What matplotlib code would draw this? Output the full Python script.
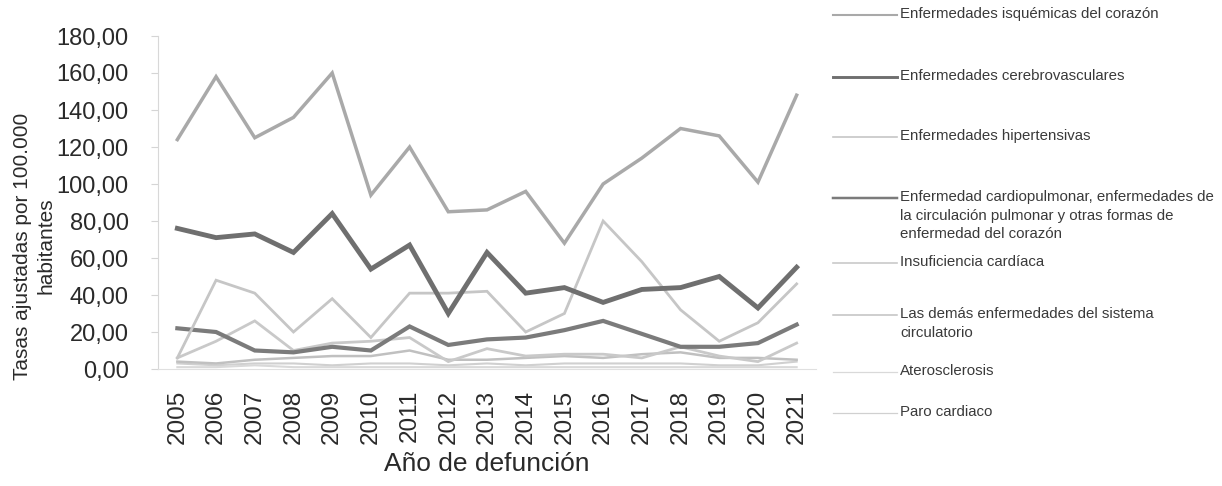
import matplotlib.pyplot as plt
from matplotlib.lines import Line2D

plt.rcParams['font.family'] = ['Liberation Sans', 'DejaVu Sans']

# datos (tasas ajustadas por 100.000 habitantes)
anios = ['2005', '2006', '2007', '2008', '2009', '2010', '2011', '2012', '2013',
         '2014', '2015', '2016', '2017', '2018', '2019', '2020', '2021']

isquemicas = [124, 158, 125, 136, 160, 94, 120, 85, 86, 96, 68, 100, 114, 130, 126, 101, 148]
cerebrovasculares = [76, 71, 73, 63, 84, 54, 67, 30, 63, 41, 44, 36, 43, 44, 50, 33, 55]
hipertensivas = [6, 48, 41, 20, 38, 17, 41, 41, 42, 20, 30, 80, 58, 32, 15, 25, 46]
cardiopulmonar = [22, 20, 10, 9, 12, 10, 23, 13, 16, 17, 21, 26, 19, 12, 12, 14, 24]
insuficiencia = [6, 15, 26, 10, 14, 15, 17, 4, 11, 7, 8, 8, 6, 12, 7, 4, 14]
demas = [4, 3, 5, 6, 7, 7, 10, 5, 5, 6, 7, 6, 8, 9, 6, 6, 5]
aterosclerosis = [1, 1, 2, 1, 1, 1, 1, 1, 1, 1, 1, 1, 1, 1, 1, 1, 1]
paro = [3, 2, 3, 3, 2, 3, 3, 2, 3, 2, 3, 3, 3, 3, 2, 2, 4]

series = [
    ("Enfermedades isquémicas del corazón", isquemicas, '#a9a9a9', 2.5),
    ("Enfermedades cerebrovasculares", cerebrovasculares, '#6f6f6f', 3.5),
    ("Enfermedades hipertensivas", hipertensivas, '#c6c6c6', 2.0),
    ("Enfermedad cardiopulmonar, enfermedades de\nla circulación pulmonar y otras formas de\nenfermedad del corazón",
     cardiopulmonar, '#7b7b7b', 3.0),
    ("Insuficiencia cardíaca", insuficiencia, '#c9c9c9', 2.0),
    ("Las demás enfermedades del sistema\ncirculatorio", demas, '#c0c0c0', 1.8),
    ("Aterosclerosis", aterosclerosis, '#d9d9d9', 1.5),
    ("Paro cardiaco", paro, '#d0d0d0', 1.5),
]
# posición vertical (px desde arriba) de cada entrada de la leyenda
leyenda_y = [15, 77, 137, 198, 263, 315, 372, 413]

fig = plt.figure(figsize=(12.22, 4.86), dpi=100)
ax = fig.add_axes([158 / 1222, 1 - 369 / 486, (816 - 158) / 1222, (369 - 36) / 486])

x = range(len(anios))
for nombre, valores, color, lw in series[::-1]:
    ax.plot(x, valores, color=color, linewidth=lw, solid_joinstyle='miter')

ax.set_xlim(-0.5, len(anios) - 0.5)
ax.set_ylim(0, 180)
ax.set_xticks(list(x))
ax.set_xticklabels(anios, rotation=90, fontsize=17.5, color='#2a2a2a')
ax.set_yticks(range(0, 181, 20))
ax.set_yticklabels([f"{v},00" for v in range(0, 181, 20)], fontsize=17, color='#2a2a2a')
ax.tick_params(axis='y', length=5, color='#d5d5d5', pad=16)
ax.tick_params(axis='x', length=0, pad=15)
for s in ['top', 'right']:
    ax.spines[s].set_visible(False)
ax.spines['left'].set_color('#d8d8d8')
ax.spines['bottom'].set_color('#e0e0e0')

ax.set_xlabel('Año de defunción', fontsize=19, color='#2a2a2a', labelpad=6)
fig.text(34 / 1222, 1 - 246 / 486, 'Tasas ajustadas por 100.000\nhabitantes', rotation=90,
         fontsize=15, color='#2a2a2a', ha='center', va='center', multialignment='center',
         linespacing=1.3)

# leyenda a la derecha
for (nombre, valores, color, lw), yp in zip(series, leyenda_y):
    yf = 1 - yp / 486
    fig.add_artist(Line2D([833 / 1222, 897 / 1222], [yf, yf], color=color, linewidth=lw * 0.6,
                          transform=fig.transFigure))
    fig.text(900 / 1222, yf + 0.016, nombre, fontsize=10.8, color='#3a3a3a', ha='left', va='top',
             linespacing=1.4)

fig.savefig('out.png', dpi=100, facecolor='white')
